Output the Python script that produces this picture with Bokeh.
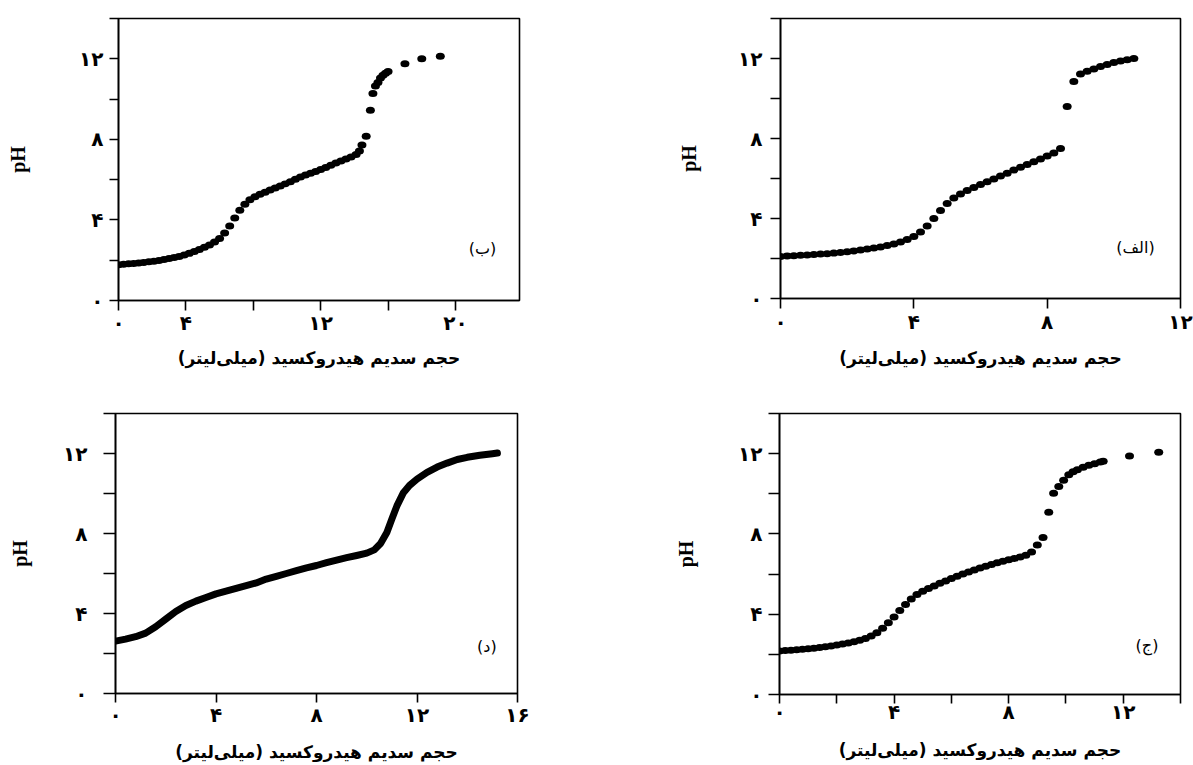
from bokeh.plotting import figure
from bokeh.layouts import row, column
from bokeh.models import Range1d, FixedTicker, Label
from bokeh.embed import file_html
from bokeh.resources import INLINE

# ---------------- data ----------------
x_title = "حجم سدیم هیدروکسید (میلی\u200cلیتر)\u200f"
y_title = "pH"
fa_digits = {0: "۰", 4: "۴", 8: "۸", 12: "۱۲", 16: "۱۶", 20: "۲۰"}
y_ticks = [0, 2, 4, 6, 8, 10, 12, 14]
y_labeled = [0, 4, 8, 12]

# panel (الف) – top right
a_vol = [0.0, 0.2, 0.4, 0.6, 0.8, 1.0, 1.2, 1.4, 1.6, 1.8, 2.0, 2.2, 2.4, 2.6, 2.8,
         3.0, 3.2, 3.4, 3.6, 3.8, 4.0, 4.2, 4.4, 4.6, 4.8, 5.0, 5.2, 5.4, 5.6, 5.8,
         6.0, 6.2, 6.4, 6.6, 6.8, 7.0, 7.2, 7.4, 7.6, 7.8, 8.0, 8.2, 8.4, 8.6, 8.8,
         9.0, 9.2, 9.4, 9.6, 9.8, 10.0, 10.2, 10.4, 10.6]
a_ph = [2.10, 2.12, 2.14, 2.16, 2.18, 2.20, 2.22, 2.24, 2.27, 2.30, 2.34, 2.38, 2.42, 2.47, 2.52,
        2.58, 2.65, 2.73, 2.83, 2.95, 3.10, 3.32, 3.62, 4.00, 4.40, 4.75, 5.02, 5.22, 5.40, 5.55,
        5.70, 5.84, 5.98, 6.12, 6.26, 6.42, 6.56, 6.70, 6.84, 6.98, 7.12, 7.28, 7.50, 9.60, 10.85,
        11.22, 11.36, 11.48, 11.60, 11.70, 11.80, 11.88, 11.94, 12.00]

# panel (ب) – top left
b_vol = [0.0, 0.3, 0.6, 0.9, 1.2, 1.5, 1.8, 2.1, 2.4, 2.7, 3.0, 3.3, 3.6, 3.9, 4.2,
         4.5, 4.8, 5.1, 5.4, 5.7, 6.0, 6.3, 6.6, 6.9, 7.2, 7.5, 7.8, 8.1, 8.4, 8.7,
         9.0, 9.3, 9.6, 9.9, 10.2, 10.5, 10.8, 11.1, 11.4, 11.7, 12.0, 12.3, 12.6, 12.9, 13.2,
         13.5, 13.8, 14.1, 14.3, 14.45, 14.7, 14.95, 15.1, 15.25, 15.4, 15.55, 15.7, 15.85, 16.0,
         17.0, 18.0, 19.1]
b_ph = [1.78, 1.80, 1.82, 1.84, 1.86, 1.89, 1.92, 1.95, 1.99, 2.03, 2.08, 2.13, 2.19, 2.26, 2.34,
        2.43, 2.53, 2.64, 2.76, 2.90, 3.08, 3.35, 3.70, 4.10, 4.48, 4.78, 5.00, 5.15, 5.27, 5.38,
        5.48, 5.58, 5.68, 5.79, 5.90, 6.02, 6.13, 6.23, 6.32, 6.40, 6.50, 6.60, 6.72, 6.83, 6.93,
        7.03, 7.12, 7.25, 7.42, 7.72, 8.15, 9.45, 10.28, 10.65, 10.82, 11.05, 11.18, 11.28, 11.37,
        11.75, 12.00, 12.12]

# panel (ج) – bottom right
c_vol = [0.0, 0.2, 0.4, 0.6, 0.8, 1.0, 1.2, 1.4, 1.6, 1.8, 2.0, 2.2, 2.4, 2.6, 2.8,
         3.0, 3.2, 3.4, 3.6, 3.8, 4.0, 4.2, 4.4, 4.6, 4.8, 5.0, 5.2, 5.4, 5.6, 5.8,
         6.0, 6.2, 6.4, 6.6, 6.8, 7.0, 7.2, 7.4, 7.6, 7.8, 8.0, 8.2, 8.4, 8.6, 8.8,
         9.0, 9.2, 9.4, 9.57, 9.75, 9.92, 10.1, 10.25, 10.4, 10.6, 10.8, 11.0, 11.2, 11.3,
         12.22, 13.24]
c_ph = [2.17, 2.19, 2.21, 2.23, 2.25, 2.28, 2.31, 2.34, 2.38, 2.42, 2.47, 2.52, 2.57, 2.63, 2.70,
        2.79, 2.91, 3.08, 3.30, 3.58, 3.86, 4.18, 4.48, 4.76, 4.98, 5.14, 5.28, 5.41, 5.54, 5.66,
        5.78, 5.89, 6.00, 6.10, 6.20, 6.30, 6.39, 6.48, 6.56, 6.64, 6.71, 6.78, 6.85, 6.94, 7.10,
        7.45, 7.82, 9.08, 10.03, 10.36, 10.68, 10.95, 11.10, 11.20, 11.32, 11.42, 11.50, 11.58, 11.62,
        11.88, 12.07]

# panel (د) – bottom left
d_vol = [0.0, 0.4, 0.8, 1.2, 1.6, 2.0, 2.4, 2.8, 3.2, 3.6, 4.0, 4.4, 4.8, 5.2, 5.6,
         6.0, 6.4, 6.8, 7.2, 7.6, 8.0, 8.4, 8.8, 9.2, 9.6, 10.0, 10.3, 10.55, 10.8, 11.0,
         11.2, 11.45, 11.7, 12.0, 12.4, 12.8, 13.2, 13.6, 14.0, 14.5, 15.0, 15.2]
d_ph = [2.62, 2.72, 2.84, 3.02, 3.34, 3.72, 4.10, 4.40, 4.62, 4.80, 4.98, 5.12, 5.26, 5.39, 5.53,
        5.72, 5.86, 6.00, 6.14, 6.28, 6.40, 6.54, 6.67, 6.79, 6.90, 7.02, 7.18, 7.50, 8.05, 8.72,
        9.38, 10.02, 10.40, 10.72, 11.06, 11.32, 11.52, 11.70, 11.81, 11.91, 11.99, 12.02]


def make_panel(x_end, x_ticks, x_labeled, left, fw, right, top, fh, bottom,
               ytick_out, ylab_standoff, ytitle_standoff, xtick_out, xlab_standoff, xtitle_standoff):
    p = figure(frame_width=fw, frame_height=fh,
               min_border_left=left, min_border_right=right,
               min_border_top=top, min_border_bottom=bottom,
               x_range=Range1d(0, x_end), y_range=Range1d(0, 14),
               output_backend="svg", toolbar_location=None)
    p.grid.visible = False
    p.background_fill_color = "white"
    p.border_fill_color = "white"
    p.outline_line_color = "black"
    p.outline_line_width = 1.6
    p.outline_line_alpha = 1.0

    xa, ya = p.xaxis[0], p.yaxis[0]
    xa.ticker = FixedTicker(ticks=x_ticks)
    xa.major_label_overrides = {t: (fa_digits[t] if t in x_labeled else "") for t in x_ticks}
    ya.ticker = FixedTicker(ticks=y_ticks)
    ya.major_label_overrides = {t: (fa_digits[t] if t in y_labeled else "") for t in y_ticks}
    for ax in (xa, ya):
        ax.axis_line_color = "black"
        ax.axis_line_width = 1.6
        ax.major_tick_line_color = "black"
        ax.major_tick_line_width = 1.6
        ax.major_tick_in = 0
        ax.minor_tick_line_color = None
        ax.major_label_text_font = "DejaVu Sans"
        ax.major_label_text_font_style = "bold"
        ax.major_label_text_font_size = "20px"
        ax.major_label_text_color = "black"
        ax.axis_label_text_color = "black"
    ya.major_tick_out = ytick_out
    ya.major_label_standoff = ylab_standoff
    ya.axis_label = y_title
    ya.axis_label_text_font = "Liberation Serif"
    ya.axis_label_text_font_style = "bold"
    ya.axis_label_text_font_size = "20px"
    ya.axis_label_standoff = ytitle_standoff
    xa.major_tick_out = xtick_out
    xa.major_label_standoff = xlab_standoff
    xa.axis_label = x_title
    xa.axis_label_text_font = "DejaVu Sans"
    xa.axis_label_text_font_style = "bold"
    xa.axis_label_text_font_size = "17px"
    xa.axis_label_standoff = xtitle_standoff
    return p


def dots(p, xs, ys):
    p.ellipse(x=xs, y=ys, width=9, height=7, width_units="screen", height_units="screen",
              fill_color="black", line_color=None)


def tag(p, x, y, text):
    p.add_layout(Label(x=x, y=y, text=text, text_font="DejaVu Sans", text_font_size="16px",
                       text_align="center", text_baseline="middle", text_color="black"))


pB = make_panel(23.8, [0, 4, 8, 12, 16, 20], [0, 4, 12, 20], 118, 401, 81, 13, 282, 85,
                9, 6, 47, 10, 0, 10)
dots(pB, b_vol, b_ph)
tag(pB, 21.6, 2.6, "(ب)")

pA = make_panel(12, [0, 4, 8, 12], [0, 4, 8, 12], 180, 400, 13, 18, 280, 82,
                10, 8, 35, 10, 1, 11)
dots(pA, a_vol, a_ph)
tag(pA, 10.65, 2.57, "\u200f(الف)\u200f")

pD = make_panel(16, [0, 4, 8, 12, 16], [0, 4, 8, 12, 16], 115, 402, 83, 33, 280, 72,
                12, 16, 29, 9, 0, 12)
pD.line(x=d_vol, y=d_ph, line_width=7, line_color="black", line_join="round", line_cap="round")
tag(pD, 14.78, 2.36, "(د)")

pC = make_panel(14, [0, 2, 4, 6, 8, 10, 12, 14], [0, 4, 8, 12], 179, 401, 13, 33, 281, 71,
                11, 6, 38, 9, -4, 13)
dots(pC, c_vol, c_ph)
tag(pC, 12.83, 2.43, "(ج)")

layout = column(row(pB, pA), row(pD, pC))
open("out.html", "w").write(file_html(layout, INLINE))
